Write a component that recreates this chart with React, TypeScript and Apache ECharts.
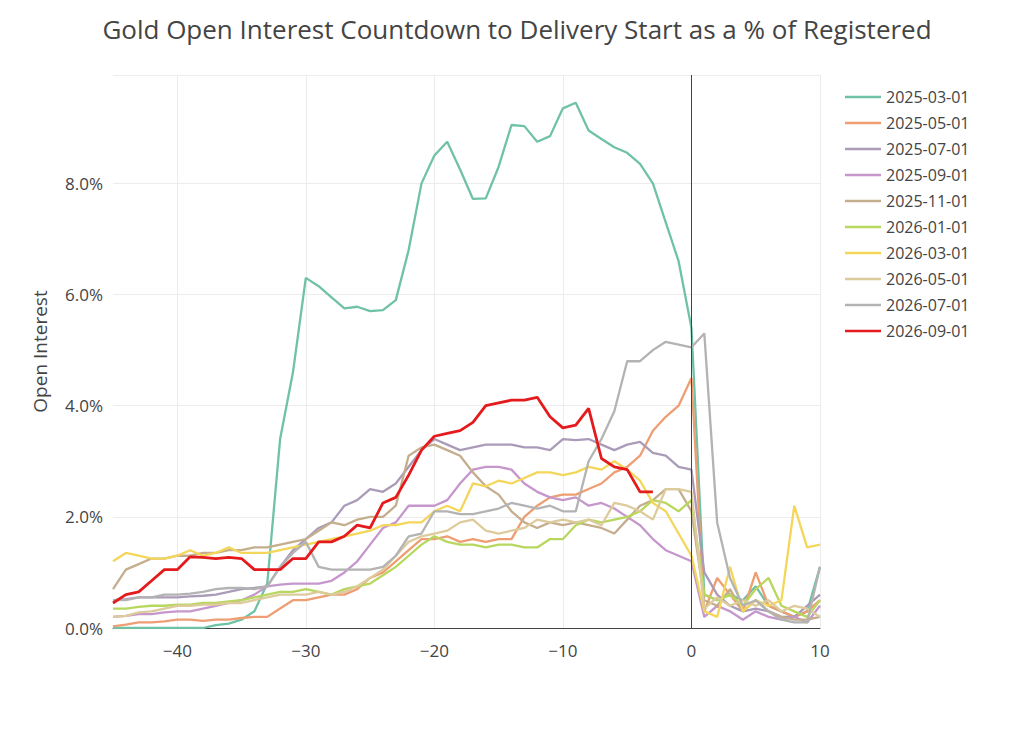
import React, { useEffect, useRef } from "react";
import * as echarts from "echarts";

const xs: number[] = [];
for (let i = -45; i <= 10; i++) xs.push(i);

const names = ["2025-03-01","2025-05-01","2025-07-01","2025-09-01","2025-11-01","2026-01-01","2026-03-01","2026-05-01","2026-07-01","2026-09-01"];
const colors = ["#6fc2a4","#ee9e72","#aa9cb8","#c697cc","#c4ae8e","#b8d75e","#f3d65a","#ddcb9c","#b3b3b3","#e41a1c"];

const s0 = [0,0,0,0,0,0,0,0,0.05,0.08, 0.15,0.3,0.8,3.4,4.6,6.3,6.15,5.95,5.75,5.78, 5.7,5.72,5.9,6.8,8.0,8.5,8.75,8.25,7.72,7.73, 8.3,9.05,9.03,8.75,8.85,9.35,9.45,8.95,8.8,8.65, 8.55,8.35,8.0,7.3,6.6,5.4,0.6,0.5,0.6,0.5, 0.75,0.4,0.3,0.2,0.3,1.1];
const s1 = [0.03,0.06,0.1,0.1,0.12,0.15,0.15,0.13,0.15,0.15, 0.18,0.2,0.2,0.35,0.5,0.5,0.55,0.6,0.6,0.7, 0.9,1.0,1.2,1.4,1.6,1.6,1.65,1.55,1.6,1.55, 1.6,1.6,2.0,2.2,2.35,2.4,2.4,2.5,2.6,2.8, 2.9,3.1,3.55,3.8,4.0,4.5,0.3,0.9,0.6,0.3, 1.0,0.4,0.3,0.2,0.3,0.5];
const s2 = [0.5,0.52,0.55,0.55,0.55,0.55,0.57,0.58,0.6,0.65, 0.7,0.72,0.75,1.1,1.4,1.6,1.8,1.9,2.2,2.3, 2.5,2.45,2.6,2.9,3.2,3.4,3.3,3.2,3.25,3.3, 3.3,3.3,3.25,3.25,3.2,3.4,3.38,3.4,3.3,3.2, 3.3,3.35,3.15,3.1,2.9,2.85,1.0,0.6,0.4,0.3, 0.35,0.3,0.2,0.2,0.4,0.6];
const s3 = [0.2,0.22,0.25,0.25,0.28,0.3,0.3,0.35,0.4,0.45, 0.5,0.6,0.75,0.78,0.8,0.8,0.8,0.85,1.0,1.2, 1.5,1.8,1.9,2.2,2.2,2.2,2.3,2.6,2.85,2.9, 2.9,2.85,2.6,2.45,2.35,2.3,2.35,2.2,2.25,2.15, 2.0,1.85,1.6,1.4,1.3,1.2,0.2,0.4,0.3,0.15, 0.3,0.2,0.15,0.2,0.1,0.4];
const s4 = [0.7,1.05,1.15,1.25,1.25,1.3,1.3,1.35,1.35,1.4, 1.4,1.45,1.45,1.5,1.55,1.6,1.75,1.9,1.85,1.95, 2.0,2.0,2.2,3.1,3.25,3.3,3.2,3.1,2.8,2.55, 2.4,2.1,1.9,1.8,1.9,1.85,1.9,1.85,1.8,1.7, 1.95,2.2,2.3,2.5,2.5,2.1,0.5,0.4,0.7,0.3, 0.5,0.3,0.2,0.15,0.15,0.2];
const s5 = [0.35,0.35,0.38,0.4,0.4,0.42,0.42,0.45,0.45,0.48, 0.5,0.55,0.6,0.65,0.65,0.7,0.65,0.6,0.7,0.75, 0.8,0.95,1.1,1.3,1.5,1.65,1.55,1.5,1.5,1.45, 1.5,1.5,1.45,1.45,1.6,1.6,1.85,1.95,1.9,1.95, 2.0,2.1,2.3,2.25,2.1,2.3,0.6,0.5,0.6,0.4, 0.7,0.9,0.4,0.3,0.2,0.5];
const s6 = [1.2,1.35,1.3,1.25,1.25,1.3,1.4,1.3,1.35,1.45, 1.35,1.35,1.35,1.4,1.45,1.5,1.55,1.6,1.65,1.7, 1.75,1.85,1.85,1.9,1.9,2.1,2.2,2.1,2.6,2.55, 2.65,2.6,2.7,2.8,2.8,2.75,2.8,2.9,2.85,3.0, 2.85,2.65,2.25,2.1,1.7,1.3,0.3,0.2,1.1,0.3, 0.5,0.4,0.5,2.2,1.45,1.5];
const s7 = [0.2,0.22,0.28,0.3,0.35,0.4,0.4,0.42,0.42,0.45, 0.45,0.5,0.55,0.6,0.6,0.6,0.65,0.6,0.65,0.75, 0.9,1.05,1.3,1.55,1.65,1.7,1.75,1.9,1.95,1.75, 1.7,1.75,1.8,1.95,1.9,1.95,1.9,1.95,1.85,2.25, 2.2,2.1,1.95,2.5,2.5,2.45,0.35,0.55,0.4,0.5, 0.4,0.5,0.3,0.4,0.35,0.2];
const s8 = [0.5,0.5,0.55,0.55,0.6,0.6,0.62,0.65,0.7,0.72, 0.72,0.7,0.75,1.1,1.35,1.55,1.1,1.05,1.05,1.05, 1.05,1.1,1.3,1.65,1.7,2.1,2.1,2.05,2.05,2.1, 2.15,2.25,2.2,2.15,2.2,2.1,2.1,3.0,3.4,3.9, 4.8,4.8,5.0,5.15,5.1,5.05,5.3,1.9,0.9,0.4, 0.5,0.3,0.15,0.1,0.1,1.1];
const s9 = [0.45,0.6,0.65,0.85,1.05,1.05,1.28,1.27,1.25,1.27,1.25, 1.05,1.05,1.05, 1.25,1.25,1.55,1.55,1.65, 1.85,1.8,2.25,2.35,2.75,3.2, 3.45,3.5,3.55,3.7,4.0,4.05,4.1,4.1,4.15, 3.8,3.6,3.65,3.95, 3.05,2.9,2.85,2.45,2.45];

const seriesValues = [s0,s1,s2,s3,s4,s5,s6,s7,s8,s9];

export default function App() {
  const ref = useRef<HTMLDivElement>(null);
  useEffect(() => {
    const chart = echarts.init(ref.current!, undefined, { renderer: "svg" });
    const series: any[] = seriesValues.map((vals, i) => ({
      name: names[i],
      type: "line",
      data: vals.map((v, j) => [xs[j], v]),
      showSymbol: false,
      symbol: "none",
      lineStyle: { width: i === 9 ? 2.8 : 2.3, color: colors[i] },
      itemStyle: { color: colors[i] },
      z: i === 9 ? 5 : 2,
    }));
    series[0].markLine = {
      silent: true,
      symbol: "none",
      label: { show: false },
      lineStyle: { color: "#444", width: 1, type: "solid" },
      data: [{ xAxis: 0 }],
    };
    chart.setOption({
      animation: false,
      title: {
        text: "Gold Open Interest Countdown to Delivery Start as a % of Registered",
        left: 512, top: 11, textAlign: "center",
        textStyle: { fontFamily: "Open Sans", fontSize: 26, fontWeight: "normal", color: "#444" },
      },
      grid: { left: 113, right: 204, top: 75, bottom: 103 },
      legend: {
        orient: "vertical", left: 840, top: 84, itemGap: 10,
        icon: "path://M0,5 L30,5 L30,7 L0,7 Z", itemWidth: 36, itemHeight: 16,
        textStyle: { fontFamily: "Open Sans", fontSize: 16, color: "#444" },
        data: names,
      },
      xAxis: {
        type: "value", min: -45, max: 10, interval: 5,
        axisLine: { show: true, onZero: false, lineStyle: { color: "#444", width: 1 } },
        axisTick: { show: false },
        axisLabel: {
          fontFamily: "Open Sans", fontSize: 17, color: "#444", margin: 14,
          formatter: (v: number) => (v % 10 === 0 ? (v < 0 ? "\u2212" + Math.abs(v) : String(v)) : ""),
        },
        splitLine: { show: true, lineStyle: { color: ["transparent", "#ececec"] } },
      },
      yAxis: {
        type: "value", min: 0, max: 9.95, interval: 2,
        name: "Open Interest", nameLocation: "middle", nameGap: 64,
        nameTextStyle: { fontFamily: "Open Sans", fontSize: 19, color: "#444" },
        axisLine: { show: false }, axisTick: { show: false },
        axisLabel: {
          fontFamily: "Open Sans", fontSize: 17, color: "#444", margin: 10,
          formatter: (v: number) => (Math.abs(v % 2) < 1e-9 ? v.toFixed(1) + "%" : ""),
        },
        splitLine: { lineStyle: { color: "#ececec" } },
      },
      series,
    });
    return () => chart.dispose();
  }, []);
  return <div ref={ref} style={{ width: 1024, height: 731, position: "absolute", left: 0, top: 0, background: "#fff" }} />;
}
